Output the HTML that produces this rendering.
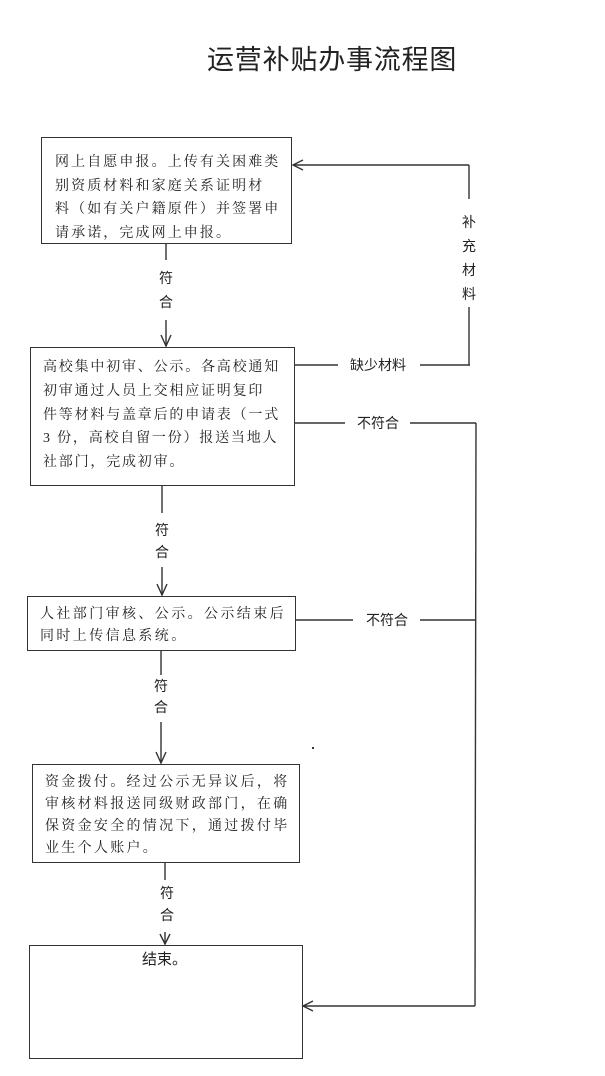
<!DOCTYPE html>
<html><head><meta charset="utf-8"><style>
body{margin:0;width:605px;height:1076px;background:#fff;position:relative;overflow:hidden;font-family:"Liberation Sans","Noto Sans CJK SC",sans-serif;color:#222}
.t{position:absolute;white-space:nowrap;font-size:14px;line-height:14px}
.box{position:absolute;border:1.5px solid #333;box-sizing:border-box}
.bt{position:absolute;font-family:"Liberation Serif","Noto Serif CJK SC",serif;font-size:14px;color:#222;white-space:nowrap}
svg{position:absolute;left:0;top:0}
</style></head><body>
<div class="t" style="left:207px;top:45px;font-size:27px;line-height:30px;letter-spacing:0.8px">运营补贴办事流程图</div>

<svg width="605" height="1076" fill="none" stroke="#333" stroke-width="1.4">
<line x1="166" y1="243" x2="166" y2="260"/><line x1="166" y1="320" x2="166" y2="346"/><polyline points="161,335 166,346 171,335"/>
<line x1="162" y1="485" x2="162" y2="513"/><line x1="162" y1="567" x2="162" y2="595"/><polyline points="157,584 162,595 167,584"/>
<line x1="161" y1="650" x2="161" y2="675"/><line x1="161" y1="722" x2="161" y2="763"/><polyline points="156,752 161,763 166,752"/>
<line x1="165" y1="862" x2="165" y2="880"/><line x1="165" y1="932" x2="165" y2="944"/><polyline points="160,934 165,944 170,934"/>
<line x1="294" y1="365" x2="338" y2="365"/><line x1="420" y1="365" x2="470" y2="365"/>
<line x1="469" y1="365" x2="469" y2="307"/><line x1="469" y1="199" x2="469" y2="165"/>
<line x1="469" y1="165" x2="293" y2="165"/><polyline points="303,160 293,165 303,170"/>
<line x1="294" y1="423" x2="345" y2="423"/><line x1="410" y1="423" x2="476" y2="423"/>
<line x1="295" y1="620" x2="353" y2="620"/><line x1="420" y1="620" x2="475" y2="620"/>
<line x1="476" y1="423" x2="475" y2="1006"/>
<line x1="475" y1="1006" x2="303" y2="1006"/><polyline points="313,1001 303,1006 313,1011"/>
</svg>

<div class="box" style="left:41px;top:137px;width:251px;height:107px"></div>
<div class="bt" style="left:55px;top:151px;line-height:23.5px;letter-spacing:2.1px">网上自愿申报。上传有关困难类<br>别资质材料和家庭关系证明材<br>料（如有关户籍原件）并签署申<br>请承诺，完成网上申报。</div>

<div class="box" style="left:30px;top:347px;width:265px;height:139px"></div>
<div class="bt" style="left:43px;top:356px;line-height:23.8px;letter-spacing:1.8px">高校集中初审、公示。各高校通知<br>初审通过人员上交相应证明复印<br>件等材料与盖章后的申请表（一式<br>3 份，高校自留一份）报送当地人<br>社部门，完成初审。</div>

<div class="box" style="left:27px;top:596px;width:269px;height:55px"></div>
<div class="bt" style="left:40px;top:604px;line-height:22px;letter-spacing:2.4px">人社部门审核、公示。公示结束后<br>同时上传信息系统。</div>

<div class="box" style="left:32px;top:764px;width:268px;height:99px"></div>
<div class="bt" style="left:45px;top:772px;line-height:22px;letter-spacing:2.3px">资金拨付。经过公示无异议后，将<br>审核材料报送同级财政部门，在确<br>保资金安全的情况下，通过拨付毕<br>业生个人账户。</div>

<div class="box" style="left:29px;top:945px;width:274px;height:114px"></div>
<div class="bt" style="left:142px;top:950px;font-size:15px;line-height:20px;font-family:'Liberation Sans','Noto Sans CJK SC',sans-serif">结束。</div>

<div class="t" style="left:159px;top:271px">符</div><div class="t" style="left:159px;top:295px">合</div>
<div class="t" style="left:155px;top:523px">符</div><div class="t" style="left:155px;top:545px">合</div>
<div class="t" style="left:154px;top:679px">符</div><div class="t" style="left:154px;top:700px">合</div>
<div class="t" style="left:160px;top:886px">符</div><div class="t" style="left:160px;top:908px">合</div>

<div class="t" style="left:462px;top:210px;line-height:24px">补<br>充<br>材<br>料</div>
<div class="t" style="left:350px;top:358px">缺少材料</div>
<div class="t" style="left:357px;top:416px">不符合</div>
<div class="t" style="left:366px;top:613px">不符合</div>
<div style="position:absolute;left:312px;top:747px;width:2px;height:2px;background:#333"></div>
</body></html>
